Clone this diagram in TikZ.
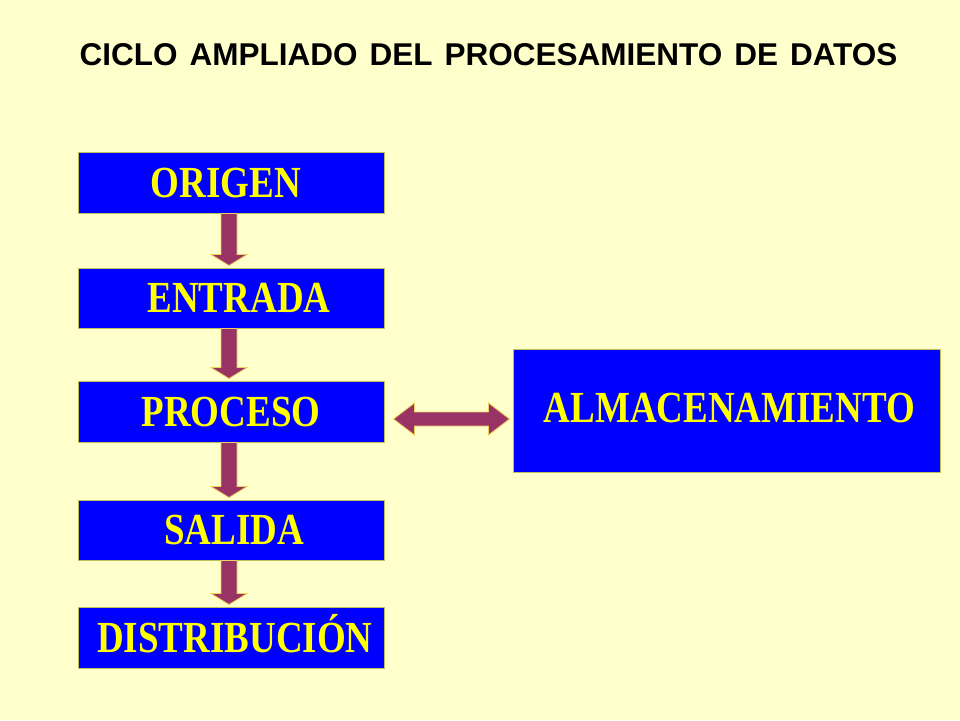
\documentclass[tikz,border=0pt]{standalone}
\usepackage{fontspec}
\setmainfont{Liberation Serif}
\newfontfamily\titlefont{Liberation Sans}
\usetikzlibrary{calc}
\definecolor{bgyellow}{RGB}{255,255,204}
\definecolor{boxblue}{RGB}{0,0,255}
\definecolor{boxedge}{RGB}{190,190,90}
\definecolor{txtyellow}{RGB}{255,255,0}
\definecolor{maroon}{RGB}{153,51,102}
\definecolor{glow}{RGB}{235,210,90}
\newcommand\boxtext[1]{\scalebox{1}[1.2]{#1}}
\newcommand\fatdown[2]{%
  \draw[fatarrow] ($(#1.south)+(-10,0)$) -- ($(#2.north)+(-10,-13)$) -- ($(#2.north)+(-20,-13)$)
    -- ($(#2.north)+(-2,-2)$) -- ($(#2.north)+(16,-13)$) -- ($(#2.north)+(6,-13)$)
    -- ($(#1.south)+(6,0)$) -- cycle;}
\begin{document}
\begin{tikzpicture}[x=1pt,y=-1pt,
  stagebox/.style={rectangle, draw=boxedge, line width=1pt, fill=boxblue,
    inner sep=0pt, text=txtyellow, font=\fontsize{37}{40}\selectfont\bfseries,
    text height=29pt, text depth=0pt},
  fatarrow/.style={fill=maroon, draw=glow, line width=0.8pt, line join=miter}]
\fill[bgyellow] (0,0) rectangle (960,720);
\useasboundingbox (0,0) rectangle (960,720);
\node[anchor=base, font=\titlefont\fontsize{31.5}{34}\selectfont\bfseries, inner sep=0pt] (title) at (488.5,65)
  {\spaceskip=12pt CICLO AMPLIADO DEL PROCESAMIENTO DE DATOS};
\node[stagebox, minimum width=306pt, minimum height=61pt] (origen) at (231,182.5) {\hspace*{-10pt}\boxtext{ORIGEN}};
\node[stagebox, minimum width=306pt, minimum height=60pt] (entrada) at (231,298) {\hspace*{16pt}\boxtext{ENTRADA}};
\node[stagebox, minimum width=306pt, minimum height=61pt] (proceso) at (231,411.5) {\boxtext{PROCESO}};
\node[stagebox, minimum width=306pt, minimum height=60pt] (salida) at (231,530) {\hspace*{6pt}\boxtext{SALIDA}};
\node[stagebox, minimum width=306pt, minimum height=61pt] (distrib) at (231,637.5) {\hspace*{8pt}\boxtext{DISTRIBUCIÓN}};
\node[stagebox, minimum width=427pt, minimum height=123pt, text height=24pt] (almacen) at (726.5,410.5) {\hspace*{6pt}\boxtext{ALMACENAMIENTO}};
\fatdown{origen}{entrada}
\fatdown{entrada}{proceso}
\fatdown{proceso}{salida}
\fatdown{salida}{distrib}
\draw[fatarrow] ($(proceso.east)+(9,7.5)$) -- ($(proceso.east)+(30,-8.5)$) -- ($(proceso.east)+(30,0.5)$)
  -- ($(almacen.west)+(-24,1.5)$) -- ($(almacen.west)+(-24,-7.5)$) -- ($(almacen.west)+(-3,8.5)$)
  -- ($(almacen.west)+(-24,24.5)$) -- ($(almacen.west)+(-24,15.5)$) -- ($(proceso.east)+(30,14.5)$)
  -- ($(proceso.east)+(30,23.5)$) -- cycle;
\end{tikzpicture}
\end{document}
